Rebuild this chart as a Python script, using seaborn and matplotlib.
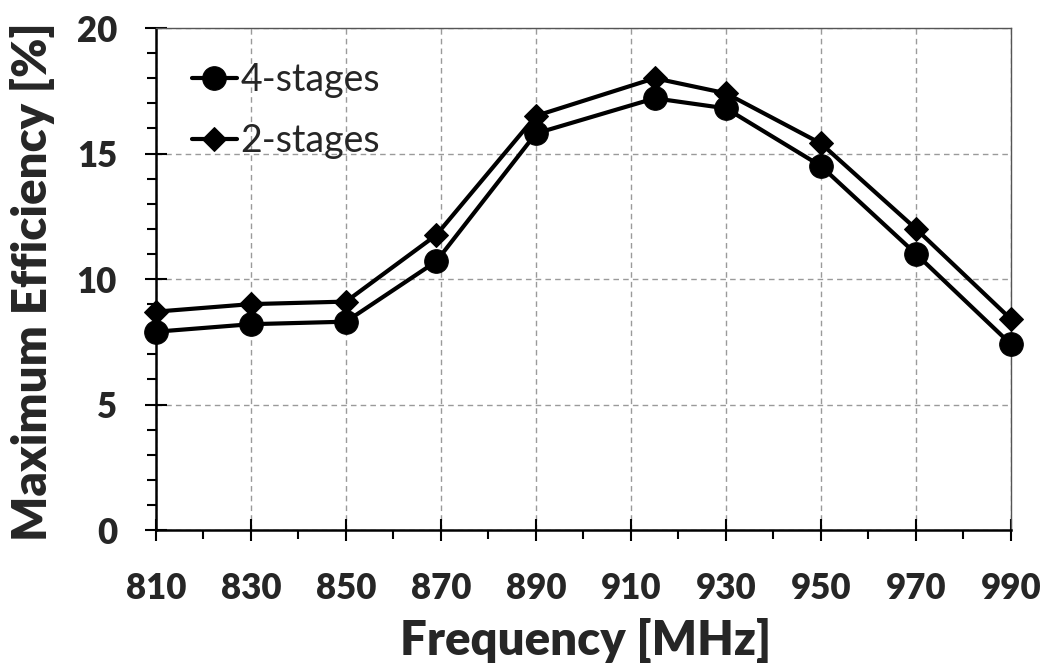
import matplotlib
matplotlib.use("Agg")
import matplotlib.pyplot as plt
import seaborn as sns
import pandas as pd
from matplotlib.ticker import MultipleLocator, FixedLocator

freq = [810, 830, 850, 869, 890, 915, 930, 950, 970, 990]
eff_4stages = [7.9, 8.2, 8.3, 10.7, 15.8, 17.2, 16.8, 14.5, 11.0, 7.4]
eff_2stages = [8.7, 9.0, 9.1, 11.75, 16.5, 18.0, 17.4, 15.4, 12.0, 8.4]
series_names = ["4-stages", "2-stages"]
x_major = [810, 830, 850, 870, 890, 910, 930, 950, 970, 990]
x_minor = [820, 840, 860, 880, 900, 920, 940, 960, 980]

df = pd.DataFrame({
    "freq": freq * 2,
    "eff": eff_4stages + eff_2stages,
    "series": [series_names[0]] * len(freq) + [series_names[1]] * len(freq),
})

sns.set_style("white")
plt.rcParams["font.family"] = ["Lato", "DejaVu Sans"]

fig = plt.figure(figsize=(10.46, 6.64), dpi=100)
ax = fig.add_axes([0.1491, 0.2018, 0.8174, 0.7560])

sns.lineplot(data=df, x="freq", y="eff", hue="series", style="series",
             hue_order=series_names, style_order=series_names,
             palette=["black", "black"], markers={"4-stages": "o", "2-stages": "D"},
             dashes=False, linewidth=3, markersize=17, markeredgecolor="black",
             ax=ax, zorder=3, clip_on=False)
for line in ax.lines:
    if line.get_marker() == "D":
        line.set_markersize(12.5)

ax.set_xlim(810, 990)
ax.set_ylim(0, 20)
ax.xaxis.set_major_locator(FixedLocator(x_major))
ax.xaxis.set_minor_locator(FixedLocator(x_minor))
ax.yaxis.set_major_locator(MultipleLocator(5))
ax.yaxis.set_minor_locator(MultipleLocator(1))

ax.grid(True, which="major", color="#9a9a9a", linestyle=(0, (4, 3)), linewidth=1.0)
ax.set_axisbelow(True)

ax.tick_params(axis="both", which="both", bottom=True, left=True, top=False, right=False)
ax.tick_params(axis="both", which="major", direction="inout", length=16, width=1.5,
               color="black", labelsize=25)
ax.tick_params(axis="x", which="major", pad=22)
ax.tick_params(axis="y", which="major", pad=20)
ax.tick_params(axis="both", which="minor", direction="out", length=6.5, width=1.5, color="black")
for lab in ax.get_xticklabels() + ax.get_yticklabels():
    lab.set_fontweight("heavy")

for s in ["left", "bottom"]:
    ax.spines[s].set_color("black")
    ax.spines[s].set_linewidth(1.8)
for s in ["top", "right"]:
    ax.spines[s].set_color("#555555")
    ax.spines[s].set_linewidth(1.0)

ax.set_xlabel("Frequency [MHz]", fontsize=34, fontweight="heavy")
ax.set_ylabel("Maximum Efficiency [%]", fontsize=34, fontweight="heavy")
ax.xaxis.label.set_verticalalignment("baseline")
ax.xaxis.set_label_coords(0.503, -0.249)
ax.yaxis.set_label_coords(-0.118, 0.494)

leg = ax.legend(loc="upper left", bbox_to_anchor=(0.011, 0.984), frameon=False,
                fontsize=27, handlelength=1.2, handletextpad=0.1, labelspacing=0.65,
                borderaxespad=0.3)

fig.savefig("out.png", dpi=100)
